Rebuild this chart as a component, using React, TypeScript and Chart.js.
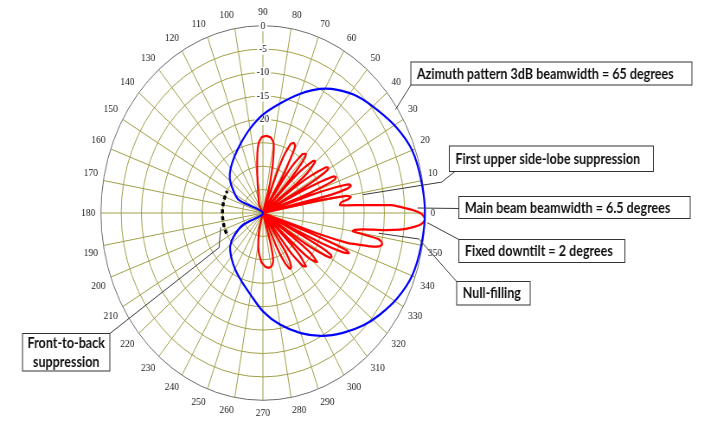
import React, { useEffect, useRef } from "react";
import { Chart, registerables } from "chart.js";

Chart.register(...registerables);

// Rim labels (degrees, counter-clockwise from the right-hand side)
const angleTicks = [
  0, 10, 20, 30, 40, 50, 60, 70, 80, 90, 100, 110, 120, 130, 140, 150, 160, 170,
  180, 190, 200, 210, 220, 230, 240, 250, 260, 270, 280, 290, 300, 310, 320, 330, 340, 350,
];
// Radial scale in dB (labels shown from 0 down to -20)
const levelMin = -40;
const levelMax = 0;
const levelStep = 5;
const levelLabelFloor = -20;

// Elevation pattern (red): [angle in degrees, level in dB]
const elevationPattern: [number, number][] = [
  [180, -40], [140, -40], [118, -38], [104, -35], [99, -31], [96, -27], [94, -25], [91, -23.8],
  [87, -23.5], [83, -23.8], [80, -24.8], [78, -27.5], [76, -31], [74, -35], [71, -40],
  [68, -31], [67, -26.5], [65, -23.7], [63, -23.2], [61, -23.6], [60, -25.5], [58, -31], [57, -40],
  [55, -31], [54, -27], [52, -24], [50, -23.5], [49, -24], [48, -26], [47, -30], [46, -40],
  [45, -32], [44, -27], [42, -23.5], [41, -23], [40, -23.3], [38, -26], [37, -30], [36, -40],
  [35, -31], [34, -26], [32, -21.6], [31, -21.2], [30, -21.5], [29, -24], [28, -29], [27, -40],
  [26, -30], [25, -24], [24, -20.8], [23, -20.4], [22, -20.8], [21, -24], [20, -30], [19, -40],
  [18, -28], [17, -21], [16, -17.8], [15, -17.5], [14, -18.5], [13, -23], [12, -40],
  [11, -27], [10, -19], [9, -18], [8, -18.6], [7, -20.3], [6, -20.8], [5, -20.9],
  [4, -16.1], [3, -8.1], [2, -5.6], [1, -3], [0, -1.2], [-1, -0.3], [-2, 0], [-3, -0.4],
  [-4, -1.5], [-5, -3.5], [-6, -6], [-7, -10], [-8, -15], [-9, -17], [-10, -17.5],
  [-11, -11], [-12, -10], [-13, -9.8], [-14, -10.5], [-15, -12.5], [-16, -15.5], [-17, -18], [-18, -26], [-19, -40],
  [-20, -28], [-21, -18], [-22, -17.1], [-23, -18.5], [-24, -24], [-25, -40],
  [-26, -32], [-27, -24], [-28, -21], [-29, -20.6], [-30, -21], [-31, -23.5], [-32, -28], [-34, -40],
  [-35, -31], [-36, -25.5], [-38, -23], [-40, -24.5], [-41, -28], [-43, -40],
  [-44, -31], [-45, -27], [-47, -24.4], [-49, -25], [-51, -29], [-54, -40],
  [-56, -31], [-57, -28], [-59, -26.4], [-61, -26.4], [-63, -28], [-65, -32], [-68, -40],
  [-72, -40], [-74, -33], [-76, -29.5], [-79, -28.5], [-83, -28.2], [-87, -28.5], [-92, -29.5],
  [-97, -31.5], [-101, -34], [-106, -37], [-120, -40], [-150, -40],
];

// Azimuth pattern (blue): [angle in degrees, level in dB]
const azimuthPattern: [number, number][] = [
  [0, 0], [10, -0.3], [20, -0.8], [29, -2.3], [38, -4.2], [47, -5.9], [55, -7.9], [62, -10],
  [70, -12.9], [80, -16.3], [90, -19], [100, -21.7], [110, -24.1], [120, -26], [130, -27.6],
  [138, -29], [145, -30.8], [155, -33.4], [180, -40],
  [-153, -34.6], [-146, -31.5], [-139, -29.3], [-130, -27.8], [-120, -26.2], [-110, -24.5],
  [-100, -22.3], [-90, -19], [-80, -15.8], [-70, -12.7], [-61, -10], [-52, -7.6], [-44, -5.5],
  [-37, -3.9], [-29, -2.2], [-20, -0.8], [-10, -0.3],
];

// Front-to-back suppression marker (dashed arc)
const frontToBack = { from: 152, to: 206, level: -30 };

// Text call-outs: box in canvas pixels, leader starts at the box and runs to polar anchors
const callouts = [
  { text: ["Azimuth pattern 3dB beamwidth = 65 degrees"], box: [475, 62, 800, 85], start: [475, 85], path: [[34, -0.5]] },
  { text: ["First upper side-lobe suppression"], box: [519.5, 146, 755.5, 171.5], start: [526, 171.5], path: [[8.5, 4.6], [9, -15]] },
  { text: ["Main beam beamwidth = 6.5 degrees"], box: [530.5, 196.5, 798, 218.5], start: [530.5, 208.5], path: [[1.6, -1.8]] },
  { text: ["Fixed downtilt = 2 degrees"], box: [530.5, 239.5, 722.5, 262.5], start: [530.5, 239.5], path: [[-2.9, 0.6]] },
  { text: ["Null-filling"], box: [528, 281.5, 613, 305], start: [528, 281.5], path: [[-8.2, -1.1], [-8.6, -11.1]] },
  { text: ["Front-to-back", "suppression"], box: [26, 333.5, 127, 371], start: [127, 333.5], path: [[214.3, -26.9], [196.5, -29.1]] },
];

// One radar spoke per degree; index 0 is 90° at the top, running clockwise
const degreeLabels: number[] = Array.from({ length: 360 }, (_, i) => (450 - i) % 360);
const indexOfAngle = (deg: number) => (((90 - deg) % 360) + 360) % 360;

function toRadarSeries(points: [number, number][]) {
  const out: (number | null)[] = new Array(360).fill(null);
  for (const [deg, db] of points) out[Math.round(indexOfAngle(deg))] = db;
  return out;
}

function arcSeries(from: number, to: number, level: number) {
  const out: (number | null)[] = new Array(360).fill(null);
  for (let d = from; d <= to; d++) out[indexOfAngle(d)] = level;
  return out;
}

const calloutPlugin = {
  id: "callouts",
  afterDatasetsDraw(chart: any) {
    const ctx: CanvasRenderingContext2D = chart.ctx;
    const r = chart.scales.r;
    const toXY = (p: number[]) => r.getPointPositionForValue(indexOfAngle(p[0]), p[1]);
    ctx.save();
    for (const c of callouts) {
      ctx.beginPath();
      ctx.strokeStyle = "#3a3a3a";
      ctx.lineWidth = 1;
      ctx.moveTo(c.start[0], c.start[1]);
      for (const p of c.path) {
        const q = toXY(p);
        ctx.lineTo(q.x, q.y);
      }
      ctx.stroke();

      const [x0, y0, x1, y1] = c.box;
      ctx.fillStyle = "#ffffff";
      ctx.fillRect(x0, y0, x1 - x0, y1 - y0);
      ctx.strokeStyle = "#333333";
      ctx.strokeRect(x0, y0, x1 - x0, y1 - y0);

      ctx.fillStyle = "#111111";
      ctx.font = "bold 14.5px Lato";
      ctx.textBaseline = "middle";
      if (c.text.length === 1) {
        ctx.textAlign = "left";
        ctx.fillText(c.text[0], x0 + 7, (y0 + y1) / 2 + 0.5);
      } else {
        ctx.textAlign = "center";
        const cx = (x0 + x1) / 2;
        const lh = (y1 - y0) / c.text.length;
        c.text.forEach((t, i) => ctx.fillText(t, cx, y0 + lh * (i + 0.5) + 0.5));
      }
    }
    ctx.restore();
  },
};

export default function App() {
  const canvasRef = useRef<HTMLCanvasElement | null>(null);

  useEffect(() => {
    document.body.style.margin = "0";
    document.documentElement.style.overflow = "hidden";
    const canvas = canvasRef.current;
    if (!canvas) return;

    const chart = new Chart(canvas, {
      type: "radar",
      data: {
        labels: degreeLabels,
        datasets: [
          {
            label: "Azimuth",
            data: toRadarSeries(azimuthPattern),
            borderColor: "#0000ff",
            borderWidth: 2.2,
            tension: 0.3,
            spanGaps: true,
            fill: false,
            pointRadius: 0,
          },
          {
            label: "Elevation",
            data: toRadarSeries(elevationPattern),
            borderColor: "#ff0000",
            borderWidth: 2.2,
            tension: 0.12,
            spanGaps: true,
            fill: false,
            pointRadius: 0,
          },
          {
            label: "Front-to-back",
            data: arcSeries(frontToBack.from, frontToBack.to, frontToBack.level),
            borderColor: "#000000",
            borderWidth: 3.5,
            borderDash: [4, 3],
            tension: 0,
            spanGaps: false,
            fill: false,
            pointRadius: 0,
          },
        ],
      } as any,
      options: {
        animation: false,
        responsive: false,
        maintainAspectRatio: false,
        events: [],
        layout: { padding: { left: 0, right: 205, top: 6, bottom: -9 } },
        plugins: { legend: { display: false }, tooltip: { enabled: false } },
        scales: {
          r: {
            min: levelMin,
            max: levelMax,
            startAngle: 0,
            grid: {
              circular: true,
              color: (c: any) => (c.tick && c.tick.value === levelMax ? "#6b6b6b" : "#a19e47"),
              lineWidth: 1,
            },
            angleLines: {
              color: "#a19e47",
              lineWidth: (c: any) => (angleTicks.includes(degreeLabels[c.index]) ? 1 : 0),
            },
            ticks: {
              stepSize: levelStep,
              color: "#111111",
              font: { family: "Liberation Serif", size: 11 },
              backdropColor: "#ffffff",
              backdropPadding: { x: 2, y: 0 },
              showLabelBackdrop: (c: any) => c.tick && c.tick.value >= levelLabelFloor,
              callback: (v: any) => (Number(v) >= levelLabelFloor ? String(v) : ""),
            },
            pointLabels: {
              color: "#222222",
              font: { family: "Liberation Serif", size: 11 },
              padding: 1,
              callback: (label: any) => (angleTicks.includes(Number(label)) ? String(label) : ""),
            },
          },
        },
      } as any,
      plugins: [calloutPlugin],
    });

    return () => chart.destroy();
  }, []);

  return (
    <canvas
      ref={canvasRef}
      width={814}
      height={421}
      style={{ width: "704px", height: "421px", display: "block" }}
    />
  );
}
